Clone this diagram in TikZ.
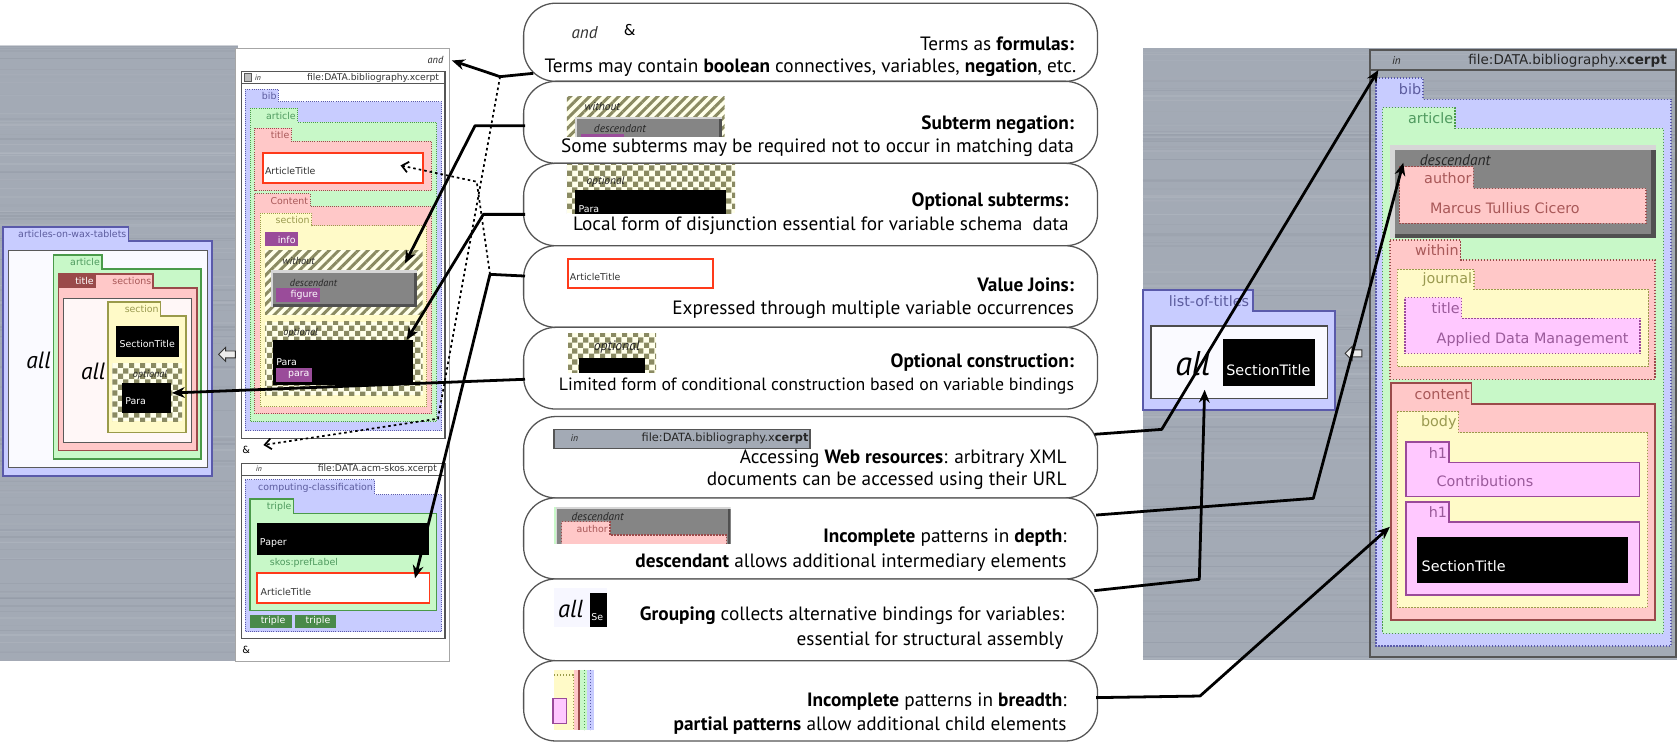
\documentclass[tikz,border=0pt]{standalone}
\usepackage{fontspec}
\setmainfont{PT Sans}
\newfontfamily\labf{DejaVu Sans}
\usetikzlibrary{patterns.meta,arrows.meta}
\definecolor{bibF}{HTML}{C8CCFF}\definecolor{bibD}{HTML}{5A5AAA}\definecolor{bibT}{HTML}{5C5C9E}
\definecolor{artF}{HTML}{C8F8C8}\definecolor{artD}{HTML}{4A9A4A}\definecolor{artT}{HTML}{4F9A5F}
\definecolor{pnkF}{HTML}{FFC8C8}\definecolor{pnkD}{HTML}{9A4A4A}\definecolor{pnkT}{HTML}{A85858}
\definecolor{yelF}{HTML}{FFFAC8}\definecolor{yelD}{HTML}{9A9A4A}\definecolor{yelT}{HTML}{9A9A50}
\definecolor{magF}{HTML}{FFC8FF}\definecolor{magD}{HTML}{9A4A9A}\definecolor{magT}{HTML}{9A5A9A}
\definecolor{purp}{HTML}{9A4C9A}\definecolor{dgreen}{HTML}{4A8A4A}\definecolor{dred}{HTML}{9A4A4A}
\definecolor{avred}{HTML}{FF3A1A}\definecolor{olive}{HTML}{8A8A62}\definecolor{cream}{HTML}{FFFFEA}
\definecolor{steel}{HTML}{A3AAB5}\definecolor{steelL}{HTML}{B6BCC5}\definecolor{steelD}{HTML}{8F96A2}
\definecolor{bevL}{HTML}{D6D6D6}\definecolor{bevM}{HTML}{858585}\definecolor{bevD}{HTML}{505050}
\definecolor{frame}{HTML}{555555}
\tikzdeclarepattern{name=xcheck,type=uncolored,bottom left={(0pt,0pt)},top right={(5pt,5pt)},
  tile size={(5pt,5pt)},code={\fill (0pt,0pt) rectangle (2.5pt,2.5pt); \fill (2.5pt,2.5pt) rectangle (5pt,5pt);}}
\tikzset{
  every node/.style={inner sep=0pt,outer sep=0pt},
  el/.style={fill=#1F,draw=#1D,line width=0.5pt},
  qd/.style={line width=0.45pt,dash pattern=on 0.45pt off 0.55pt},
  rd/.style={line width=0.65pt,dash pattern=on 0.65pt off 0.75pt},
  sol/.style={line width=0.8pt},
  callout/.style={draw=frame,fill=white,line width=0.6pt,rounded corners=15pt,minimum width=268pt},
  ctext/.style={anchor=east,font=\fontsize{9pt}{9pt}\selectfont},
  conn/.style={line width=1.3pt,line join=round,-{Stealth[length=6pt,width=5pt]}},
  dconn/.style={line width=0.8pt,dash pattern=on 1.2pt off 1.4pt,-{Straight Barb[length=3pt,width=5pt]}},
}
\newcommand\fs[1]{\fontsize{#1}{#1}\selectfont}
\newcommand\ql[2]{{\labf\fs{4.4pt}\color{#1}#2}}
\newcommand\rl[2]{{\labf\fs{6.7pt}\color{#1}#2}}
\newcommand\qi[2][4.8pt]{{\itshape\fs{#1}\color{black!85}#2}}
% element: style, x1, tab x2, y top, body top, x2, y bottom, name, label
\newcommand\xel[9]{%
  \draw[#1] (#2,#4) -- (#3,#4) -- (#3,#5) -- (#6,#5) -- (#6,#7) -- (#2,#7) -- cycle;
  \node[anchor=east] (#8) at ({#3-1.8},{(#4+#5)/2+0.5}) {#9};}
\newcommand\bevel[5]{%
  \fill[bevL] (#1,#2) rectangle (#3,#4);
  \fill[bevD] ({#1+#5},{#2+#5}) rectangle (#3,#4);
  \fill[bevM] ({#1+#5},{#2+#5}) rectangle ({#3-#5},{#4-#5});}
\newcommand\chk[4]{\fill[cream] (#1,#2) rectangle (#3,#4);
  \fill[pattern=xcheck,pattern color=olive] (#1,#2) rectangle (#3,#4);}
\newcommand\stripes[4]{\fill[cream] (#1,#2) rectangle (#3,#4);
  \fill[pattern={Lines[angle=45,distance=3.2pt,line width=1.4pt]},pattern color=olive] (#1,#2) rectangle (#3,#4);}
\newcommand\brushed[4]{%
  \fill[steel] (#1,#2) rectangle (#3,#4);
  \foreach \k in {1,...,130}{%
    \pgfmathsetmacro\yy{#2+rnd*(#4-#2)}%
    \pgfmathsetmacro\cc{int(rnd*100)}%
    \pgfmathsetmacro\ww{0.2+rnd*0.8}%
    \draw[line width=\ww pt,color=steelL!\cc!steelD,opacity=0.45] (#1,\yy) -- (#3,\yy);}}
\newcommand\larrow[2]{\draw[fill=gray!15,draw=gray!40!black,line width=0.4pt,shift={(#1,#2)},scale=1.3]
  (-6,0) -- (-1,-5) -- (-1,-2.5) -- (6,-2.5) -- (6,2.5) -- (-1,2.5) -- (-1,5) -- cycle;}
\begin{document}
\begin{tikzpicture}[x=0.5pt,y=-0.5pt]
\useasboundingbox (0,0) rectangle (1568,695);
\fill[white] (0,0) rectangle (1568,695);
\pgfmathsetseed{7}
\brushed{0}{43}{222}{617}
\brushed{1067}{45}{1566}{616}

% ================= left query panel
\draw[fill=white,draw=gray!70,line width=0.5pt] (220,45) rectangle (420,618);
\node[anchor=east] (andq) at (414,56) {\qi{and}};
\draw[fill=white,draw=frame,line width=0.5pt] (225.7,67) rectangle (415.6,409.3);
\draw[frame,line width=0.4pt] (225.7,77.8) -- (415.6,77.8);
\draw[fill=gray!50,draw=gray!70!black,line width=0.3pt] (228.5,68.5) rectangle (235,76);
\node[anchor=west] (qin1) at (238,72.5) {\qi[3.6pt]{in}};
\node[anchor=east] (qfile1) at (410,72.5) {{\labf\fs{4.3pt}\color{black!80}file:DATA.bibliography.xcerpt}};
\xel{el=bib,qd}{229}{260}{83.4}{95}{412.5}{402.2}{qbib}{\ql{bibT}{bib}}
\xel{el=art,qd}{233.5}{278}{101}{114}{407.8}{393.8}{qart}{\ql{artT}{article}}
\xel{el=pnk,qd}{238}{272}{119.6}{132}{403}{178}{qtitle}{\ql{pnkT}{title}}
\draw[fill=white,draw=avred,line width=0.8pt] (245.6,142.6) rectangle (395,171);
\node[anchor=west] (qat1) at (247.5,160) {\ql{black!80}{ArticleTitle}};
\xel{el=pnk,qd}{238}{289.5}{181}{193}{403}{386.6}{qcontent}{\ql{pnkT}{Content}}
\xel{el=yel,qd}{243}{291}{199}{211}{398.5}{380}{qsection}{\ql{yelT}{section}}
\fill[purp] (247.5,217) rectangle (278,230);
\node[anchor=east] (qinfo) at (276,223.8) {\ql{white}{info}};
\stripes{247.5}{233.5}{394.7}{294}
\node[anchor=west] (qwithout) at (264,244) {\qi{without}};
\bevel{252.8}{252}{389}{286.4}{2.5}
\node[anchor=west] (qdesc) at (270.8,264) {\qi{descendant}};
\fill[purp] (258,269) rectangle (299,282);
\node[anchor=east] (qfigure) at (297,275.8) {\ql{white}{figure}};
\chk{247.5}{300.4}{394.7}{369}
\node[anchor=west] (qopt) at (264.6,311) {\qi{optional}};
\fill[black] (254.6,317.5) rectangle (386,359.5);
\node[anchor=west] (qpara) at (258,338) {\ql{white}{Para}};
\fill[purp] (258,344) rectangle (291,356.5);
\node[anchor=east] (qpara2) at (289,350.5) {\ql{white}{para}};
\node (amp1) at (230,420) {\labf\fs{4.6pt}\&};
\draw[fill=white,draw=frame,line width=0.5pt] (225.7,432.7) rectangle (415.6,596);
\draw[frame,line width=0.4pt] (225.7,443.6) -- (415.6,443.6);
\node[anchor=west] (qin2) at (239,438) {\qi[3.6pt]{in}};
\node[anchor=east] (qfile2) at (408,438) {{\labf\fs{4.3pt}\color{black!80}file:DATA.acm-skos.xcerpt}};
\xel{el=bib,qd}{228.8}{350}{448}{462}{412.5}{590}{qcc}{\ql{bibT}{computing-classification}}
\xel{el=art,line width=0.6pt}{233.5}{274}{466}{479.4}{407.8}{570.3}{qtriple}{\ql{artT}{triple}}
\fill[black] (240.3,488.7) rectangle (401,518.3);
\node[anchor=west] (qpaper) at (242.8,507.4) {\ql{white}{Paper}};
\node[anchor=west] (qskos) at (252,526) {\ql{artT}{skos:prefLabel}};
\draw[fill=white,draw=avred,line width=0.8pt] (240.3,534.8) rectangle (401,563.4);
\node[anchor=west] (qat2) at (243.5,552.6) {\ql{black!80}{ArticleTitle}};
\fill[dgreen] (233.5,574.3) rectangle (272.4,586.2);
\node (qtr1) at (255,580.3) {\ql{white}{triple}};
\fill[dgreen] (275.8,574.3) rectangle (313.8,586.2);
\node (qtr2) at (297,580.3) {\ql{white}{triple}};
\node (amp2) at (230,607) {\labf\fs{4.6pt}\&};

% ================= left construct
\draw[fill=bibF,draw=bibD,line width=0.8pt] (3,211.8) -- (120,211.8) -- (120,224.9) -- (198,224.9) -- (198,444.3) -- (3,444.3) -- cycle;
\node[anchor=east] (lwax) at (118,218.8) {\ql{bibT}{articles-on-wax-tablets}};
\draw[fill=blue!2,draw=gray!70!black,line width=0.5pt] (8,234) rectangle (194,436.8);
\node (lall1) at (36,337) {\itshape\fs{11pt}all};
\xel{el=art,sol}{50}{95}{237.9}{250.9}{188}{428.5}{lart}{\ql{artT}{article}}
\xel{el=pnk,sol}{54.5}{143}{255.9}{268.7}{184}{420.7}{lsections}{\ql{pnkT}{sections}}
\fill[dred] (54.5,255.9) rectangle (89.5,268.7);
\node[anchor=east] (ltitle) at (87.5,262.8) {\ql{white}{title}};
\draw[fill=red!3,draw=gray!70!black,line width=0.5pt] (59,278.5) rectangle (179,413);
\node (lall2) at (87,347) {\itshape\fs{11pt}all};
\xel{el=yel,sol}{101}{150}{281.9}{295}{173.5}{404}{lsection}{\ql{yelT}{section}}
\fill[black] (108,304.4) rectangle (167,333.6);
\node (lst) at (137.5,321) {\ql{white}{SectionTitle}};
\chk{105}{339.3}{170}{393.6}
\node[anchor=west] (lopt) at (124,350.5) {\qi{optional}};
\fill[black] (114,358) rectangle (160,386);
\node[anchor=west] (lpara) at (117,375) {\ql{white}{Para}};
\larrow{212}{331}

% ================= right: list-of-titles
\draw[fill=bibF,draw=bibD,line width=0.9pt] (1067.7,270.8) -- (1170.5,270.8) -- (1170.5,290.1) -- (1246.7,290.1) -- (1246.7,382.9) -- (1067.7,382.9) -- cycle;
\node[anchor=east] (rlot) at (1166.5,281) {\rl{bibT}{list-of-titles}};
\draw[fill=blue!2,draw=gray!60!black,line width=0.6pt] (1075,304.5) rectangle (1240,372);
\node (rall) at (1114,340) {\itshape\fs{16pt}all};
\fill[black] (1141.8,316.6) rectangle (1228,360.2);
\node (rst1) at (1184.5,345.5) {\rl{white}{SectionTitle}};
\larrow{1264}{330}

% ================= right: data query panel
\draw[frame,line width=0.8pt] (1279.4,46.7) rectangle (1565.2,613.3);
\draw[frame,line width=0.6pt] (1279.4,65.4) -- (1565.2,65.4);
\node[anchor=west] (rin) at (1300,57) {\qi[5.2pt]{in}};
\node[anchor=east] (rfile) at (1556.5,57) {{\labf\fs{6.3pt}\color{black!85}file:DATA.bibliography.x\textbf{cerpt}}};
\xel{el=bib,rd}{1285}{1329}{73}{92.7}{1560.5}{603.3}{rbib}{\rl{bibT}{bib}}
\xel{el=art,rd}{1291.3}{1358.8}{100.5}{119.8}{1553.3}{591.5}{rart}{\rl{artT}{article}}
\bevel{1298}{135.4}{1546.5}{222.6}{4.5}
\node[anchor=west] (rdesc) at (1326,150) {\qi[7.2pt]{descendant}};
\xel{el=pnk,rd}{1306.8}{1376}{155.7}{175.9}{1537.2}{208.5}{rauthor}{\rl{pnkT}{author}}
\node[anchor=west] (rcicero) at (1335.5,194) {\rl{pnkT}{Marcus Tullius Cicero}};
\xel{el=pnk,rd}{1298}{1364}{224}{242.8}{1545.6}{354.2}{rwithin}{\rl{pnkT}{within}}
\xel{el=yel,rd}{1305}{1376.5}{251.5}{270.2}{1539.3}{342.4}{rjournal}{\rl{yelT}{journal}}
\xel{el=mag,rd}{1312}{1365}{278}{297.3}{1531.6}{330}{rtitle}{\rl{magT}{title}}
\node[anchor=west] (radm) at (1341.7,317) {\rl{magT}{Applied Data Management}};
\xel{el=pnk,sol}{1298.7}{1374.3}{358}{377.3}{1545.6}{579}{rcontent}{\rl{pnkT}{content}}
\xel{el=yel,rd}{1305}{1362}{384.5}{404}{1538.4}{567.5}{rbody}{\rl{yelT}{body}}
\xel{el=mag,sol}{1312.7}{1353.2}{412.5}{432}{1531}{463.8}{rh1a}{\rl{magT}{h1}}
\node[anchor=west] (rcontr) at (1341.7,449.5) {\rl{magT}{Contributions}};
\xel{el=mag,sol}{1312.7}{1353.2}{468.5}{487.2}{1531}{555.7}{rh1b}{\rl{magT}{h1}}
\fill[black] (1323,501.2) rectangle (1520.7,544.8);
\node[anchor=west] (rst2) at (1327.7,529) {\rl{white}{SectionTitle}};

% ================= callouts
\node[callout,minimum height=36.5pt] (cal1) at (757,39.5) {};
\node[callout,minimum height=38.25pt] (cal2) at (757,114.25) {};
\node[callout,minimum height=38.5pt] (cal3) at (757,191) {};
\node[callout,minimum height=38.1pt] (cal4) at (757,267.6) {};
\node[callout,minimum height=38.15pt] (cal5) at (757,343.85) {};
\node[callout,minimum height=38pt] (cal6) at (757,427) {};
\node[callout,minimum height=37.85pt] (cal7) at (757,502.85) {};
\node[callout,minimum height=38.15pt] (cal8) at (757,578.85) {};
\node[callout,minimum height=37.5pt] (cal9) at (757,654.5) {};

\node[ctext] (t1a) at (1003,41) {Terms as \textbf{formulas:}};
\node[ctext] (t1b) at (1005,63) {Terms may contain \textbf{boolean} connectives, variables, \textbf{negation}, etc.};
\node[ctext] (t2a) at (1003,116) {\textbf{Subterm negation:}};
\node[ctext] (t2b) at (1003,138) {Some subterms may be required not to occur in matching data};
\node[ctext] (t3a) at (998,188) {\textbf{Optional subterms:}};
\node[ctext] (t3b) at (998,211) {Local form of disjunction essential for variable schema\ \ data};
\node[ctext] (t4a) at (1003,266) {\textbf{Value Joins:}};
\node[ctext] (t4b) at (1003,289) {Expressed through multiple variable occurrences};
\node[ctext] (t5a) at (1003,339) {\textbf{Optional construction:}};
\node[ctext,font=\fs{8.3pt}] (t5b) at (1003,361) {Limited form of conditional construction based on variable bindings};
\node[ctext] (t6a) at (996,428) {Accessing \textbf{Web resources}: arbitrary XML};
\node[ctext] (t6b) at (996,449) {documents can be accessed using their URL};
\node[ctext] (t7a) at (996,502) {\textbf{Incomplete} patterns in \textbf{depth}:};
\node[ctext] (t7b) at (996,525) {\textbf{descendant} allows additional intermediary elements};
\node[ctext] (t8a) at (994,575) {\textbf{Grouping} collects alternative bindings for variables:};
\node[ctext] (t8b) at (993,598) {essential for structural assembly};
\node[ctext] (t9a) at (996,655) {\textbf{Incomplete} patterns in \textbf{breadth}:};
\node[ctext] (t9b) at (996,678) {\textbf{partial patterns} allow additional child elements};

% callout icons
\node (c1and) at (546,30) {\itshape\fs{8pt}\color{black!80}and};
\node (c1amp) at (588,28) {\labf\fs{7pt}\&};
\begin{scope}
\clip (529.5,90.3) rectangle (676.7,127.6);
\stripes{529.5}{90.3}{676.7}{127.6}
\bevel{536.8}{109}{673.9}{134}{2.5}
\fill[purp] (542.6,125.6) rectangle (582.4,130);
\end{scope}
\node[anchor=west] (c2w) at (546,99.6) {\qi[5.3pt]{without}};
\node[anchor=west] (c2d) at (554.7,120.5) {\qi[5.3pt]{descendant}};
\begin{scope}
\clip (529.5,154) rectangle (686.5,199);
\chk{529.5}{154}{686.5}{199}
\fill[black] (537.2,177.4) rectangle (677.6,205);
\node[anchor=west] (c3para) at (540.3,195.5) {\ql{white}{Para}};
\end{scope}
\node[anchor=west] (c3o) at (547.8,169.5) {\qi[5.3pt]{optional}};
\draw[fill=white,draw=avred,line width=0.8pt] (530.5,242.2) rectangle (665.9,268.7);
\node[anchor=west] (c4at) at (532.3,259) {\ql{black!80}{ArticleTitle}};
\chk{530.5}{311.3}{612.7}{348}
\node (c5o) at (576,324.4) {\qi[6.4pt]{optional}};
\fill[black] (541,334.6) rectangle (602.4,348);
\fill[steel] (517.4,401) rectangle (756.5,418.7);
\draw[frame,line width=0.6pt] (517.4,401) rectangle (756.5,418.7);
\node[anchor=west] (c6in) at (533,409) {\qi[4.5pt]{in}};
\node[anchor=east] (c6file) at (755,409) {{\labf\fs{5.3pt}\color{black!85}file:DATA.bibliography.x\textbf{cerpt}}};
\begin{scope}
\clip (517.4,473.2) rectangle (682.4,508);
\bevel{517.4}{473.2}{682.4}{515}{2.5}
\fill[artF] (517.4,473.2) rectangle (519.4,508);
\draw[el=pnk,rd] (524.5,487.2) -- (569.7,487.2) -- (569.7,499.6) -- (678.6,499.6) -- (678.6,515) -- (524.5,515) -- cycle;
\end{scope}
\node[anchor=west] (c7d) at (533.9,482.5) {\qi[5.3pt]{descendant}};
\node[anchor=east] (c7a) at (567.5,494) {\ql{pnkT}{author}};
\fill[blue!3] (517.4,549.4) rectangle (566.6,585.2);
\node (c8all) at (533,569) {\itshape\fs{11.5pt}all};
\fill[black] (551,553.5) rectangle (566.6,585.2);
\node[anchor=west] (c8se) at (552.3,576) {\ql{white}{Se}};
\fill[yelF] (517.4,625.7) rectangle (536,681.7);
\draw[yelD,rd] (517.4,630.4) -- (535.4,630.4) -- (535.4,681.7);
\fill[pnkF] (536,625.7) rectangle (541,681.7);
\draw[pnkD,line width=0.7pt] (540.6,625.7) -- (540.6,681.7);
\fill[artF] (541.4,625.7) rectangle (548,681.7);
\draw[artD,rd] (546,625.7) -- (546,681.7);
\fill[bibF] (548,625.7) rectangle (554.7,681.7);
\draw[bibD,rd] (551.5,625.7) -- (551.5,681.7);
\draw[fill=magF,draw=magD,line width=0.7pt] (516.4,652.2) rectangle (529.2,675.5);

% ================= connectors
\coordinate (p1s) at (498,68.5); \coordinate (p1m) at (467,71.6); \coordinate (p1t) at (422,56.5);
\coordinate (p2s) at (490.3,117.4); \coordinate (p2m) at (443.6,117.4); \coordinate (p2t) at (378.2,246);
\coordinate (p3s) at (490.3,200.2); \coordinate (p3m) at (451.4,200.2); \coordinate (p3t) at (379.8,317.5);
\coordinate (p4s) at (490.3,257.8); \coordinate (p4m) at (457.6,256.2); \coordinate (p4t) at (387.6,540);
\coordinate (p5s) at (490.3,354.2); \coordinate (p5t) at (160.5,367);
\coordinate (p6s) at (1022,405.6); \coordinate (p6m) at (1084.9,401); \coordinate (p6t) at (1287.2,65.4);
\coordinate (p7s) at (1023.6,481); \coordinate (p7m) at (1226.5,465.4); \coordinate (p7t) at (1310.5,152);
\coordinate (p8s) at (1022,551.6); \coordinate (p8m) at (1120,541); \coordinate (p8t) at (1125,364);
\coordinate (p9s) at (1023.6,651.5); \coordinate (p9m) at (1120.7,650); \coordinate (p9t) at (1298,492);
\coordinate (d1b) at (409,391); \coordinate (d1t) at (246,415.6);
\coordinate (d2m) at (445.2,169.7); \coordinate (d2t) at (374,154.5);
\draw[dconn] (p1m) -- (d1b) -- (d1t);
\draw[dconn] (p4m) -- (d2m) -- (d2t);
\draw[conn] (p1s) -- (p1m) -- (p1t);
\draw[conn] (p2s) -- (p2m) -- (p2t);
\draw[conn] (p3s) -- (p3m) -- (p3t);
\draw[conn] (p4s) -- (p4m) -- (p4t);
\draw[conn] (p5s) -- (p5t);
\draw[conn] (p6s) -- (p6m) -- (p6t);
\draw[conn] (p7s) -- (p7m) -- (p7t);
\draw[conn] (p8s) -- (p8m) -- (p8t);
\draw[conn] (p9s) -- (p9m) -- (p9t);
\end{tikzpicture}
\end{document}
